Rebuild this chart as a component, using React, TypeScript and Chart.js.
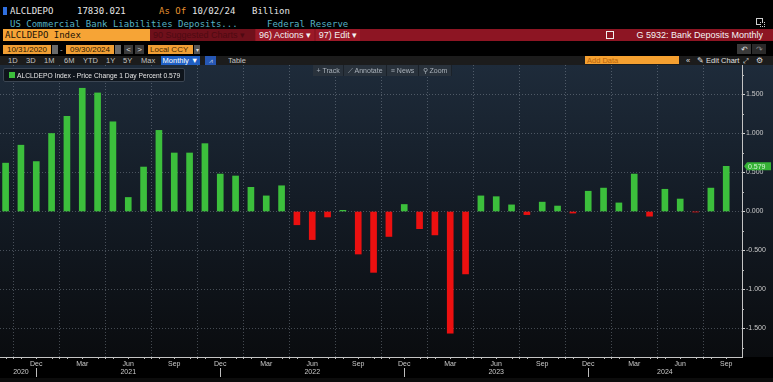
import React, { useEffect, useRef } from "react";
import { Chart, registerables } from "chart.js";

Chart.register(...registerables);

// ---------- data ----------
const categories = [
  "2020-10", "2020-11", "2020-12",
  "2021-01", "2021-02", "2021-03", "2021-04", "2021-05", "2021-06",
  "2021-07", "2021-08", "2021-09", "2021-10", "2021-11", "2021-12",
  "2022-01", "2022-02", "2022-03", "2022-04", "2022-05", "2022-06",
  "2022-07", "2022-08", "2022-09", "2022-10", "2022-11", "2022-12",
  "2023-01", "2023-02", "2023-03", "2023-04", "2023-05", "2023-06",
  "2023-07", "2023-08", "2023-09", "2023-10", "2023-11", "2023-12",
  "2024-01", "2024-02", "2024-03", "2024-04", "2024-05", "2024-06",
  "2024-07", "2024-08", "2024-09",
];
const depositChangePct = [
  0.62, 0.85, 0.64,
  1.0, 1.22, 1.58, 1.52, 1.15, 0.18,
  0.57, 1.04, 0.75, 0.75, 0.87, 0.48,
  0.455, 0.31, 0.2, 0.33, -0.17, -0.36,
  -0.07, 0.015, -0.545, -0.78, -0.32, 0.09,
  -0.22, -0.3, -1.56, -0.8, 0.2, 0.19,
  0.085, -0.04, 0.12, 0.07, -0.02, 0.26,
  0.3, 0.11, 0.48, -0.06, 0.285, 0.16,
  -0.005, 0.3, 0.579,
];
const yTickValues = [-1.5, -1.0, -0.5, 0, 0.5, 1.0, 1.5];
const yMinorStep = 0.25;
const monthNames = ["Jan", "Feb", "Mar", "Apr", "May", "Jun", "Jul", "Aug", "Sep", "Oct", "Nov", "Dec"];
const quarterMonths = [3, 6, 9, 12];
const lastValueLabel = "0.579";

// ---------- axis ranges / styles ----------
const Y_MIN = -1.865;
const Y_MAX = 1.878;
const X_MIN = -0.365;
const X_MAX = 48.03;
const GREEN = "#3cbf3c";
const RED = "#ec1010";
const FONT = "'Liberation Sans', Arial, sans-serif";
const MONO = "'DejaVu Sans Mono', 'Liberation Mono', monospace";
const AXIS_TEXT = "#c9c9c9";
const GRID = "rgba(150,160,172,0.42)";

const monthOf = (c: string) => parseInt(c.slice(5), 10);
const yearOf = (c: string) => c.slice(0, 4);
const xTickIdx = categories.map((c, i) => (quarterMonths.includes(monthOf(c)) ? i : -1)).filter((i) => i >= 0);

const overlayPlugin = {
  id: "bbgOverlay",
  afterDraw(chart: any) {
    const { ctx, chartArea } = chart;
    const x = chart.scales.x;
    const y = chart.scales.y;
    ctx.save();
    ctx.strokeStyle = "#bdbdbd";
    ctx.lineWidth = 1;
    const ay = chartArea.bottom;
    // monthly minor ticks
    categories.forEach((_, i) => {
      const px = Math.round(x.getPixelForValue(i)) + 0.5;
      ctx.beginPath();
      ctx.moveTo(px, ay);
      ctx.lineTo(px, ay + 2);
      ctx.stroke();
    });
    // y minor ticks
    for (let k = Math.ceil(Y_MIN / yMinorStep); k * yMinorStep <= Y_MAX; k++) {
      const v = k * yMinorStep;
      if (yTickValues.some((t) => Math.abs(t - v) < 1e-6)) continue;
      const py = Math.round(y.getPixelForValue(v)) + 0.5;
      ctx.beginPath();
      ctx.moveTo(chartArea.right, py);
      ctx.lineTo(chartArea.right + 2, py);
      ctx.stroke();
    }
    // years
    const n = categories.length;
    const years = Array.from(new Set(categories.map(yearOf)));
    ctx.fillStyle = AXIS_TEXT;
    ctx.font = `7px ${FONT}`;
    ctx.textAlign = "center";
    ctx.textBaseline = "middle";
    years.forEach((yr) => {
      const first = categories.findIndex((c) => yearOf(c) === yr);
      let last = -1;
      categories.forEach((c, i) => { if (yearOf(c) === yr) last = i; });
      const start = first === 0 ? 0 : first - 1;
      const end = last === n - 1 ? n : last;
      const cx = x.getPixelForValue((start + end) / 2);
      ctx.fillText(yr, cx, ay + 15);
    });
    // year separators (at December)
    categories.forEach((c, i) => {
      if (monthOf(c) === 12) {
        const px = Math.round(x.getPixelForValue(i)) + 0.5;
        ctx.beginPath();
        ctx.moveTo(px, ay + 11);
        ctx.lineTo(px, ay + 20);
        ctx.stroke();
      }
    });
    // last value tag
    const lv = depositChangePct[depositChangePct.length - 1];
    const py = y.getPixelForValue(lv);
    const lx = chartArea.right + 2;
    ctx.fillStyle = "#36b236";
    ctx.beginPath();
    ctx.moveTo(lx, py);
    ctx.lineTo(lx + 3, py - 4);
    ctx.lineTo(lx + 27, py - 4);
    ctx.lineTo(lx + 27, py + 4);
    ctx.lineTo(lx + 3, py + 4);
    ctx.closePath();
    ctx.fill();
    ctx.fillStyle = "#d6f5d6";
    ctx.font = `7px ${FONT}`;
    ctx.textAlign = "left";
    ctx.fillText(lastValueLabel, lx + 4, py + 0.5);
    ctx.restore();
  },
};

const abs = (l: number, t: number, w: number, h: number, extra: any = {}) => ({
  position: "absolute" as const, left: l, top: t, width: w, height: h, ...extra,
});

const cellText = (extra: any = {}) => ({
  display: "flex", alignItems: "center", whiteSpace: "nowrap" as const, overflow: "hidden", ...extra,
});

export default function App() {
  const ref = useRef<HTMLCanvasElement | null>(null);

  useEffect(() => {
    if (!ref.current) return;
    const chart = new Chart(ref.current, {
      type: "bar",
      data: {
        datasets: [
          {
            data: depositChangePct.map((v, i) => ({ x: i, y: v })),
            backgroundColor: depositChangePct.map((v) => (v >= 0 ? GREEN : RED)),
            borderWidth: 0,
            barThickness: 6,
          } as any,
        ],
      },
      options: {
        animation: false,
        responsive: false,
        maintainAspectRatio: false,
        layout: { padding: 0 },
        plugins: { legend: { display: false }, tooltip: { enabled: false } },
        scales: {
          x: {
            type: "linear",
            min: X_MIN,
            max: X_MAX,
            offset: false,
            afterBuildTicks: (s: any) => { s.ticks = xTickIdx.map((v) => ({ value: v })); },
            afterFit: (s: any) => { s.height = 25; s.paddingLeft = 0; s.paddingRight = 0; },
            ticks: {
              autoSkip: false,
              maxRotation: 0,
              padding: 1,
              color: AXIS_TEXT,
              font: { family: FONT, size: 7 },
              callback: (v: any) => {
                const c = categories[Math.round(Number(v))];
                return c ? monthNames[monthOf(c) - 1] : "";
              },
            },
            grid: { color: GRID, lineWidth: 1, tickColor: "#bdbdbd", tickLength: 2 },
            border: { display: true, color: "#c4c4c4", width: 1, dash: [1, 2] },
          },
          y: {
            position: "right",
            min: Y_MIN,
            max: Y_MAX,
            afterBuildTicks: (s: any) => { s.ticks = yTickValues.map((v) => ({ value: v })); },
            afterFit: (s: any) => { s.width = 31; s.paddingTop = 0; s.paddingBottom = 0; },
            ticks: {
              padding: 1,
              color: AXIS_TEXT,
              font: { family: FONT, size: 7 },
              callback: (v: any) => Number(v).toFixed(3),
            },
            grid: { color: GRID, lineWidth: 1, tickColor: "#d0d0d0", tickLength: 3 },
            border: { display: true, color: "#c4c4c4", width: 1, dash: [1, 2] },
          },
        },
      } as any,
      plugins: [overlayPlugin],
    });
    return () => chart.destroy();
  }, []);

  const mono = { fontFamily: MONO, fontSize: 9, lineHeight: "10px", whiteSpace: "nowrap" as const };
  const sans = (size: number, color: string) => ({ fontFamily: FONT, fontSize: size, color });
  const grey = "#c2c2c2";

  return (
    <div style={{ position: "fixed", left: 0, top: 0, width: 773, height: 382, background: "#000", overflow: "hidden" }}>
      {/* row 1 */}
      <div style={abs(3, 7, 4, 8, { background: "#2f6fe0" })} />
      <div style={abs(10, 6, 60, 10, { ...mono, color: "#e6e6e6" })}>ALCLDEPO</div>
      <div style={abs(77, 6, 70, 10, { ...mono, color: "#e6e6e6" })}>17830.021</div>
      <div style={abs(159, 6, 32, 10, { ...mono, color: "#e5912f" })}>As Of</div>
      <div style={abs(192, 6, 55, 10, { ...mono, color: "#e6e6e6" })}>10/02/24</div>
      <div style={abs(252, 6, 50, 10, { ...mono, color: "#e6e6e6" })}>Billion</div>
      {/* row 2 */}
      <div style={abs(10, 19, 250, 10, { ...mono, color: "#55b2c4" })}>US Commercial Bank Liabilities Deposits...</div>
      <div style={abs(267, 19, 100, 10, { ...mono, color: "#55b2c4" })}>Federal Reserve</div>
      <div style={abs(756, 18, 7, 7, { border: "1px solid #cfcfcf", boxSizing: "border-box" })} />
      <div style={abs(760, 22, 5, 5, { border: "1px dotted #cfcfcf", boxSizing: "border-box", background: "#000" })} />

      {/* row 3 */}
      <div style={abs(150, 29, 623, 12, { background: "#8d1523" })} />
      <div style={abs(150, 29, 105, 12, { background: "#6f101b" })} />
      <div style={abs(3, 29, 147, 12, { background: "#f6a436", ...cellText(), ...mono, color: "#1a1206", paddingLeft: 2, boxSizing: "border-box" })}>ALCLDEPO Index</div>
      <div style={abs(153, 29, 102, 12, { ...cellText(), ...sans(9, "#4e0a12") })}>90 Suggested Charts ▾</div>
      <div style={abs(256, 29, 58, 12, { ...cellText({ justifyContent: "center" }), ...sans(9, "#f2f2f2"), background: "#9c1928" })}>96) Actions ▾</div>
      <div style={abs(316, 29, 44, 12, { ...cellText({ justifyContent: "center" }), ...sans(9, "#f2f2f2"), background: "#9c1928" })}>97) Edit ▾</div>
      <div style={abs(606, 31, 8, 8, { border: "1px solid #f0f0f0", boxSizing: "border-box" })} />
      <div style={abs(560, 29, 203, 12, { ...cellText({ justifyContent: "flex-end" }), ...sans(9, "#f4f4f4") })}>G 5932: Bank Deposits Monthly</div>

      {/* row 4 */}
      <div style={abs(3, 45, 48, 9, { background: "#f19f34", ...cellText({ justifyContent: "center" }), ...sans(8, "#2a1800") })}>10/31/2020</div>
      <div style={abs(52, 45, 6, 9, { background: "#6a6a6a" })} />
      <div style={abs(60, 44, 5, 10, { ...cellText(), ...sans(8, "#bbb") })}>-</div>
      <div style={abs(66, 45, 48, 9, { background: "#f19f34", ...cellText({ justifyContent: "center" }), ...sans(8, "#2a1800") })}>09/30/2024</div>
      <div style={abs(115, 45, 6, 9, { background: "#6a6a6a" })} />
      <div style={abs(124, 45, 9, 9, { background: "#3a3a3a", ...cellText({ justifyContent: "center" }), ...sans(8, "#ddd") })}>&lt;</div>
      <div style={abs(135, 45, 9, 9, { background: "#3a3a3a", ...cellText({ justifyContent: "center" }), ...sans(8, "#ddd") })}>&gt;</div>
      <div style={abs(148, 45, 45, 9, { background: "#f19f34", ...cellText({ paddingLeft: 2 }), ...sans(8, "#4a2a00"), boxSizing: "border-box" })}>Local CCY</div>
      <div style={abs(194, 45, 6, 9, { background: "#555", ...cellText({ justifyContent: "center" }), ...sans(6, "#ddd") })}>▾</div>
      <div style={abs(737, 44, 14, 10, { background: "#3a3a3a", ...cellText({ justifyContent: "center" }), ...sans(8, "#ddd") })}>↶</div>
      <div style={abs(752, 44, 14, 10, { background: "#2a2a2a", ...cellText({ justifyContent: "center" }), ...sans(8, "#888") })}>↷</div>

      {/* row 5 */}
      <div style={abs(0, 56, 773, 9, { background: "#1c1c1c" })} />
      {[["1D", 8], ["3D", 26], ["1M", 44], ["6M", 64], ["YTD", 83], ["1Y", 106], ["5Y", 123], ["Max", 141], ["Table", 228]].map(([t, l]) => (
        <div key={String(t)} style={abs(Number(l), 56, 30, 9, { ...cellText(), ...sans(7.5, grey) })}>{t}</div>
      ))}
      <div style={abs(161, 56, 39, 9, { background: "#1f5fc4", ...cellText({ justifyContent: "center" }), ...sans(7.5, "#fff") })}>Monthly ▼</div>
      <div style={abs(205, 56, 11, 9, { background: "#2657b4", ...cellText({ justifyContent: "center" }), ...sans(6.5, "#cde") })}>⩘</div>
      <div style={abs(585, 56, 94, 8, { background: "#f5a030", ...cellText({ paddingLeft: 2 }), ...sans(7.5, "#b8650c"), boxSizing: "border-box" })}>Add Data</div>
      <div style={abs(686, 56, 8, 9, { ...cellText(), ...sans(7.5, "#ddd") })}>«</div>
      <div style={abs(697, 56, 44, 9, { ...cellText(), ...sans(7.5, "#e0e0e0") })}>✎ Edit Chart</div>
      <div style={abs(743, 56, 8, 9, { ...cellText(), ...sans(7, "#ddd") })}>⤢</div>
      <div style={abs(756, 56, 9, 9, { ...cellText(), ...sans(8, "#ddd") })}>⚙</div>

      {/* chart background */}
      <div style={abs(0, 65, 773, 292, { background: "linear-gradient(#1e2b3a 0%, #141c26 45%, #0a0c0f 100%)" })} />
      <canvas ref={ref} width={773} height={317} style={{ position: "absolute", left: 0, top: 65, width: 773, height: 317 }} />

      {/* legend */}
      <div style={abs(3, 68, 182, 14, { background: "rgba(14,19,26,0.92)", border: "1px solid #3b4552", borderRadius: 2, boxSizing: "border-box" })} />
      <div style={abs(9, 72, 6, 6, { background: GREEN })} />
      <div style={abs(17, 68, 168, 14, { ...cellText(), ...sans(6.7, "#e4e4e4") })}>ALCLDEPO Index - Price Change 1 Day Percent 0.579</div>

      {/* toolbar */}
      <div style={abs(313, 65, 139, 11, { background: "#29323c", display: "flex" })}>
        {["+ Track", "⟋ Annotate", "≡ News", "⚲ Zoom"].map((t) => (
          <div key={t} style={{ ...cellText({ justifyContent: "center" }), ...sans(7, "#a9b1ba"), flex: "1 1 auto", borderRight: "1px solid #1b222a", padding: "0 2px" }}>{t}</div>
        ))}
      </div>
      <div style={abs(0, 378, 773, 4, { background: "#0c0c0c" })} />
    </div>
  );
}
